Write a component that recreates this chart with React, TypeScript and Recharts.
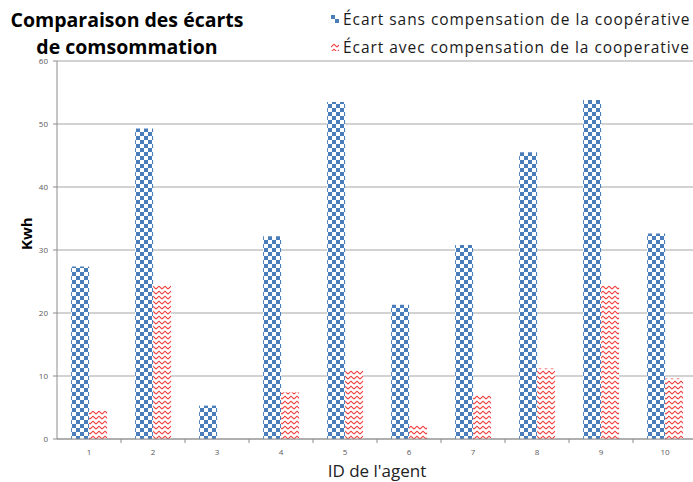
import React from 'react';
import { BarChart, Bar, XAxis, YAxis, CartesianGrid } from 'recharts';

const agents = ['1', '2', '3', '4', '5', '6', '7', '8', '9', '10'];
const ecartSans = [27.4, 49.3, 5.3, 32.2, 53.5, 21.3, 30.8, 45.5, 53.8, 32.6];
const ecartAvec = [4.5, 24.4, 0, 7.4, 10.9, 2.2, 7.0, 11.2, 24.4, 9.6];
const yTicks = [0, 10, 20, 30, 40, 50, 60];

const titleLines = ['Comparaison des écarts', 'de comsommation'];
const serieSans = 'Écart sans compensation de la coopérative';
const serieAvec = 'Écart avec compensation de la cooperative';

const data = agents.map((id, i) => ({ id, sans: ecartSans[i], avec: ecartAvec[i] }));

const W = 693;
const H = 482;
const PLOT_LEFT = 57;
const PLOT_RIGHT = 697;
const BAND = (PLOT_RIGHT - PLOT_LEFT) / agents.length;

const FONT = '"Open Sans", "Noto Sans", sans-serif';

const Patterns = () => (
    <svg width={0} height={0} style={{ position: 'absolute' }}>
        <defs>
            <pattern id="checkBlue" width={8} height={8} patternUnits="userSpaceOnUse">
                <rect width={8} height={8} fill="#ffffff" />
                <rect x={0} y={0} width={4} height={4} fill="#4a7ebb" />
                <rect x={4} y={4} width={4} height={4} fill="#4a7ebb" />
            </pattern>
            <pattern id="waveRed" width={6} height={5} patternUnits="userSpaceOnUse">
                <rect width={6} height={5} fill="#ffffff" />
                <path d="M0,4 L3,1.2 L6,4" stroke="#f03c3c" strokeWidth={1.1} fill="none" />
            </pattern>
        </defs>
    </svg>
);

const XTick = ({ x, payload }: { x?: number; y?: number; payload?: { value: string } }) => {
    const axisY = 439;
    return (
        <g>
            <line x1={(x ?? 0) + BAND / 2} x2={(x ?? 0) + BAND / 2} y1={axisY} y2={axisY + 4} stroke="#8c8c8c" />
            <text x={x} y={axisY + 16} textAnchor="middle" fontSize={8} fill="#595959" fontFamily={FONT}>
                {payload?.value}
            </text>
        </g>
    );
};

export default function App() {
    return (
        <div style={{ position: 'absolute', left: 0, top: 0, width: W, height: H, background: '#fff', fontFamily: FONT }}>
            <Patterns />
            {titleLines.map((line, i) => (
                <div
                    key={line}
                    style={{ position: 'absolute', left: 0, top: 11 + i * 27, width: 254, height: 18, textAlign: 'center', fontSize: 19.5, fontWeight: 700, lineHeight: '18px', color: '#000', whiteSpace: 'nowrap' }}
                >
                    {line}
                </div>
            ))}
            <div style={{ position: 'absolute', left: 331, top: 5, fontSize: 15.5, letterSpacing: 0.95, lineHeight: '28px', color: '#1a1a1a', whiteSpace: 'nowrap' }}>
                <div style={{ display: 'flex', alignItems: 'center' }}>
                    <svg width={8} height={8} style={{ marginRight: 4 }}><rect width={8} height={8} fill="url(#checkBlue)" /></svg>
                    {serieSans}
                </div>
                <div style={{ display: 'flex', alignItems: 'center' }}>
                    <svg width={8} height={8} style={{ marginRight: 4 }}><rect width={8} height={8} fill="url(#waveRed)" /></svg>
                    {serieAvec}
                </div>
            </div>
            <BarChart
                width={W}
                height={H}
                data={data}
                margin={{ top: 61, right: W - PLOT_RIGHT, left: 0, bottom: 0 }}
                barCategoryGap="22%"
                barGap={0}
                style={{ position: 'absolute', left: 0, top: 0 }}
            >
                <CartesianGrid vertical={false} stroke="#a6a6a6" strokeWidth={1.2} />
                <XAxis
                    dataKey="id"
                    height={43}
                    stroke="#8c8c8c"
                    tickLine={false}
                    tick={<XTick />}
                    interval={0}
                    label={{ value: "ID de l'agent", position: 'insideBottom', offset: 5, fontSize: 17, fill: '#222', fontFamily: FONT }}
                />
                <YAxis
                    width={PLOT_LEFT}
                    domain={[0, 60]}
                    ticks={yTicks}
                    interval={0}
                    stroke="#8c8c8c"
                    tickSize={4}
                    tickMargin={5}
                    tick={{ fontSize: 8, fill: '#595959', fontFamily: FONT }}
                    label={{ value: 'Kwh', angle: -90, position: 'insideLeft', offset: 27, fontSize: 15, fontWeight: 700, fill: '#000', fontFamily: FONT }}
                />
                <Bar dataKey="sans" name={serieSans} fill="url(#checkBlue)" isAnimationActive={false} />
                <Bar dataKey="avec" name={serieAvec} fill="url(#waveRed)" isAnimationActive={false} />
            </BarChart>
        </div>
    );
}
